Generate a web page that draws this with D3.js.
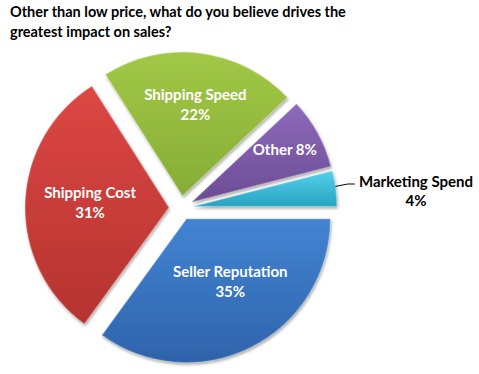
<!DOCTYPE html>
<html>
<head>
<meta charset="utf-8">
<script src="https://cdn.jsdelivr.net/npm/d3@7"></script>
<style>
  body { margin: 0; background: #fff; }
  svg { display: block; }
  text { font-family: Lato, "Open Sans", sans-serif; font-weight: bold; }
</style>
</head>
<body>
<div id="chart"></div>
<script>
const svgWidth = 479;
const svgHeight = 374;

// chart data
const categories = ["Seller Reputation", "Shipping Cost", "Shipping Speed", "Other", "Marketing Spend"];
const shares = [35, 31, 22, 8, 4];
const titleLines = ["Other than low price, what do you believe drives the", "greatest impact on sales?"];

// fill colours (light top, dark bottom)
const sliceColors = {
  "Seller Reputation": ["#4384d2", "#2e63ab"],
  "Shipping Cost": ["#dc4744", "#b5332f"],
  "Shipping Speed": ["#a2c846", "#86ad36"],
  "Other": ["#8d6abb", "#6b4c94"],
  "Marketing Spend": ["#55d0ea", "#27a3c2"]
};

// label placement: distance from pie centre + small nudge
const labelLayout = {
  "Seller Reputation": { dist: 93, dx: 7, dy: -4 },
  "Shipping Cost": { dist: 91, dx: 0, dy: 3 },
  "Shipping Speed": { dist: 99, dx: 2, dy: 0 },
  "Other": { dist: 115, dx: 3, dy: -3 }
};

const center = { x: 181, y: 208 };
const radius = 144;
const explode = 12;

const svg = d3.select("#chart")
  .append("svg")
  .attr("width", svgWidth)
  .attr("height", svgHeight);

const defs = svg.append("defs");

const shadow = defs.append("filter")
  .attr("id", "shadow")
  .attr("x", "-10%").attr("y", "-10%")
  .attr("width", "130%").attr("height", "130%");
shadow.append("feDropShadow")
  .attr("dx", 1).attr("dy", 2)
  .attr("stdDeviation", 1.6)
  .attr("flood-color", "#000")
  .attr("flood-opacity", 0.35);

categories.forEach((c, i) => {
  const g = defs.append("linearGradient")
    .attr("id", "grad" + i)
    .attr("x1", 0).attr("y1", 0)
    .attr("x2", 0).attr("y2", 1);
  g.append("stop").attr("offset", "0%").attr("stop-color", sliceColors[c][0]);
  g.append("stop").attr("offset", "100%").attr("stop-color", sliceColors[c][1]);
});

// Title
svg.append("g")
  .selectAll("text")
  .data(titleLines)
  .enter()
  .append("text")
  .attr("x", 10)
  .attr("y", (d, i) => 17 + i * 20)
  .attr("font-size", 14.5)
  .attr("fill", "#000")
  .text(d => d);

const pieData = categories.map((c, i) => ({ name: c, value: shares[i] }));

const pie = d3.pie()
  .sort(null)
  .value(d => d.value)
  .startAngle(Math.PI / 2)
  .endAngle(Math.PI / 2 + 2 * Math.PI);

const arcs = pie(pieData);

const arc = d3.arc()
  .innerRadius(0)
  .outerRadius(radius);

const midAngle = d => (d.startAngle + d.endAngle) / 2;
const offset = (d, dist) => [Math.sin(midAngle(d)) * dist, -Math.cos(midAngle(d)) * dist];

const chartGroup = svg.append("g")
  .attr("transform", `translate(${center.x}, ${center.y})`);

const slices = chartGroup.selectAll("g.slice")
  .data(arcs)
  .enter()
  .append("g")
  .attr("class", "slice")
  .attr("transform", d => `translate(${offset(d, explode)})`);

slices.append("path")
  .attr("d", arc)
  .attr("fill", (d, i) => `url(#grad${i})`)
  .attr("filter", "url(#shadow)");

// subtle bevel highlight along edges
slices.append("path")
  .attr("d", arc)
  .attr("fill", "none")
  .attr("stroke", "#fff")
  .attr("stroke-opacity", 0.25)
  .attr("stroke-width", 1.5);

// inside labels
const inside = arcs.filter(d => labelLayout[d.data.name]);

const labels = chartGroup.selectAll("g.label")
  .data(inside)
  .enter()
  .append("g")
  .attr("class", "label")
  .attr("transform", d => {
    const L = labelLayout[d.data.name];
    const p = offset(d, L.dist);
    return `translate(${p[0] + L.dx}, ${p[1] + L.dy})`;
  });

labels.each(function (d) {
  const g = d3.select(this);
  const lines = d.data.name === "Other"
    ? [d.data.name + " " + d.data.value + "%"]
    : [d.data.name, d.data.value + "%"];
  g.selectAll("text")
    .data(lines)
    .enter()
    .append("text")
    .attr("text-anchor", "middle")
    .attr("font-size", 15)
    .attr("fill", "#fff")
    .attr("y", (t, i) => lines.length === 1 ? 5 : -10 + i * 20)
    .text(t => t);
});

// outside label for the small slice with leader line
const small = arcs.find(d => d.data.name === "Marketing Spend");
const edge = offset(small, explode + radius);
const labelX = 235;
const labelY = -21;

chartGroup.append("polyline")
  .attr("points", [[edge[0] - 0.5, edge[1] - 2], [edge[0] + 12, labelY - 3], [edge[0] + 19, labelY - 3]].join(" "))
  .attr("fill", "none")
  .attr("stroke", "#000")
  .attr("stroke-width", 1);

chartGroup.append("g")
  .selectAll("text")
  .data([small.data.name, small.data.value + "%"])
  .enter()
  .append("text")
  .attr("x", labelX)
  .attr("y", (t, i) => labelY + i * 19)
  .attr("text-anchor", "middle")
  .attr("font-size", 15)
  .attr("fill", "#000")
  .text(t => t);
</script>
</body>
</html>
